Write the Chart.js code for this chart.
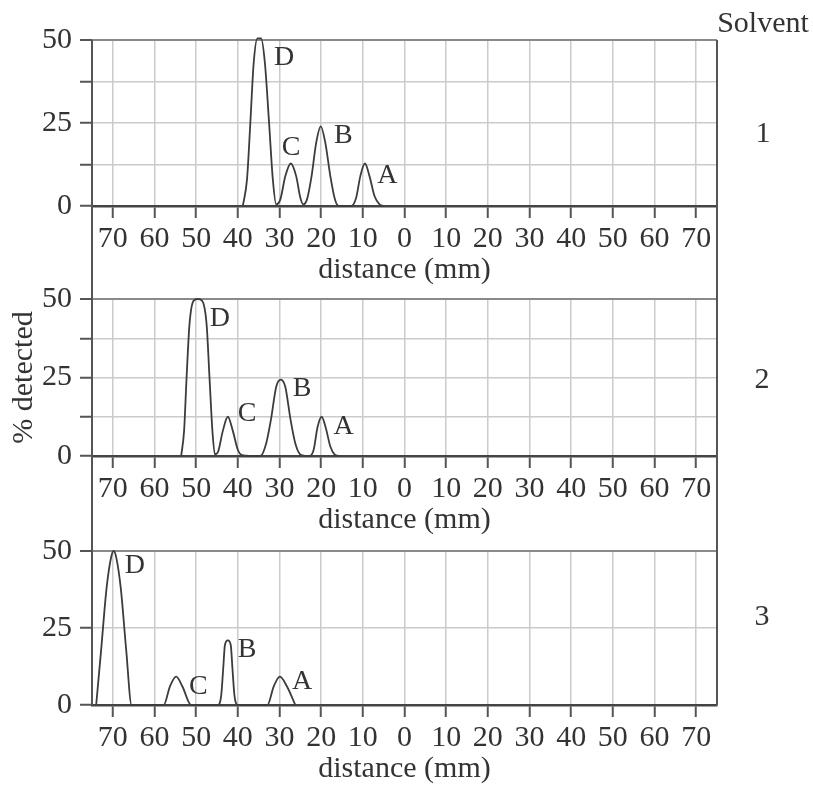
<!DOCTYPE html>
<html>
<head>
<meta charset="utf-8">
<script src="https://cdn.jsdelivr.net/npm/chart.js@4.4.0/dist/chart.umd.min.js"></script>
<style>
  body { margin: 0; background: #fff; }
  #wrap { position: relative; width: 813px; height: 788px; overflow: hidden; }
  canvas { position: absolute; left: 0; }
  .lbl { position: absolute; font: 30px "Liberation Serif", serif; color: #333; transform: translate(-50%, -50%); white-space: nowrap; }
</style>
</head>
<body>
<div id="wrap">
  <canvas id="c1" width="813" height="288" style="top:0px"></canvas>
  <canvas id="c2" width="813" height="265" style="top:273px"></canvas>
  <canvas id="c3" width="813" height="262" style="top:525px"></canvas>
  <div class="lbl" style="left:763px; top:22px">Solvent</div>
  <div class="lbl" style="left:763px; top:132px">1</div>
  <div class="lbl" style="left:762px; top:378px">2</div>
  <div class="lbl" style="left:762px; top:615px">3</div>
</div>
<script>
// axis ticks
const xTickValues = [70, 60, 50, 40, 30, 20, 10, 0, -10, -20, -30, -40, -50, -60, -70];
const yTickValues = [0, 12.5, 25, 37.5, 50];
const yLabelValues = [0, 25, 50];
const peakLetters = ['D', 'C', 'B', 'A'];

// solvent 1 trace (distance mm, % detected)
const solvent1Dist = [38.8, 37.8, 37.0, 36.2, 35.3, 34.4, 33.5, 32.5, 31.6, 30.8,
  29.8, 28.6, 27.3, 26.0, 25.0, 24.3,
  23.4, 22.3, 21.2, 20.1, 19.0, 17.8, 16.7, 15.8, 12.8,
  11.6, 10.6, 9.5, 8.4, 7.2, 6.0, 5.0];
const solvent1Pct = [0, 8, 25, 43, 50.5, 50.5, 43, 25, 8, 0.5,
  2, 9, 12.8, 9, 2.5, 0.5,
  2, 9, 19, 24, 19, 9, 2, 0, 0,
  2.5, 9, 12.8, 9, 3, 0.5, 0];
const solvent1LabelDist = [28.9, 27.2, 14.7, 4.1];
const solvent1LabelPct = [44.8, 17.7, 21.1, 9.1];

// solvent 2 trace
const solvent2Dist = [53.6, 52.9, 52.3, 51.6, 50.6, 49.6, 48.6, 47.5, 46.8, 46.1, 45.5,
  44.7, 43.6, 42.4, 41.2, 40.0, 39.0, 35.0,
  34.6, 33.2, 32.0, 30.8, 29.7, 28.6, 27.4, 26.2, 24.8, 22.8,
  21.8, 20.9, 19.9, 18.9, 17.8, 16.8, 15.8];
const solvent2Pct = [0, 8, 25, 42, 49.5, 50, 49.5, 42, 25, 8, 0.5,
  1.5, 8, 12.5, 8, 2, 0.3, 0,
  0, 4, 12, 22, 24.3, 22, 12, 4, 0.3, 0,
  2, 9, 12.5, 9, 3, 0.5, 0];
const solvent2LabelDist = [44.3, 37.8, 24.6, 14.6];
const solvent2LabelPct = [43.8, 13.5, 21.3, 9.4];

// solvent 3 trace
const solvent3Dist = [74.0, 72.8, 71.5, 70.4, 69.8, 69.2, 68.1, 66.8, 65.5,
  57.8, 56.3, 54.8, 53.3, 51.2,
  44.8, 44.0, 43.5, 43.1, 42.4, 41.7, 41.3, 40.8, 40.0,
  32.9, 31.4, 29.9, 28.2, 26.2];
const solvent3Pct = [0, 18, 38, 48, 50, 48, 38, 18, 0,
  0, 6, 9.2, 6, 0,
  0, 3, 12, 19.5, 21, 19.5, 12, 3, 0,
  0, 6, 9.2, 6, 0];
const solvent3LabelDist = [64.7, 49.5, 37.8, 24.6];
const solvent3LabelPct = [45.3, 6.1, 18.1, 7.6];

const font = { family: '"Liberation Serif", serif', size: 30 };
const textColor = '#333';

// frame sides + peak letters
const framePlugin = {
  id: 'frame',
  afterDraw(chart, args, opts) {
    const { ctx, chartArea } = chart;
    const top = opts.first ? chartArea.top : 0;
    const bottom = opts.last ? chartArea.bottom : chart.height;
    ctx.save();
    ctx.strokeStyle = '#555';
    ctx.lineWidth = 2;
    ctx.beginPath();
    ctx.moveTo(chartArea.left, top);
    ctx.lineTo(chartArea.left, bottom);
    ctx.moveTo(chartArea.right, top);
    ctx.lineTo(chartArea.right, bottom);
    ctx.stroke();

    const xs = chart.scales.x, ys = chart.scales.y;
    ctx.fillStyle = textColor;
    ctx.font = '28px "Liberation Serif", serif';
    ctx.textAlign = 'center';
    ctx.textBaseline = 'middle';
    peakLetters.forEach((t, i) => {
      ctx.fillText(t, xs.getPixelForValue(opts.labelDist[i]), ys.getPixelForValue(opts.labelPct[i]));
    });
    ctx.restore();
  }
};

function makePanel(id, dist, pct, labelDist, labelPct, cfg) {
  new Chart(document.getElementById(id), {
    type: 'line',
    data: {
      datasets: [{
        data: dist.map((d, i) => ({ x: d, y: pct[i] })),
        borderColor: '#3c3c3c',
        borderWidth: 1.8,
        pointRadius: 0,
        fill: false,
        cubicInterpolationMode: 'monotone',
        clip: false
      }]
    },
    options: {
      responsive: false,
      animation: false,
      devicePixelRatio: 1,
      layout: { padding: { top: cfg.padTop, right: 96, left: 0, bottom: 0 } },
      scales: {
        x: {
          type: 'linear',
          reverse: true,
          min: -75,
          max: 75,
          afterBuildTicks: s => { s.ticks = xTickValues.map(v => ({ value: v })); },
          afterFit: s => { s.height = 82; },
          ticks: { callback: v => Math.abs(v), font, color: textColor, padding: 3, maxRotation: 0, autoSkip: false },
          grid: { color: '#cbcbcb', lineWidth: 1.5, tickLength: 12, tickColor: '#555', tickWidth: 2 },
          border: { color: '#444', width: 2.5 },
          title: { display: true, text: 'distance (mm)', font, color: textColor, padding: { top: 0, bottom: 0 } }
        },
        y: {
          min: 0,
          max: 50,
          afterBuildTicks: s => { s.ticks = yTickValues.map(v => ({ value: v })); },
          afterFit: s => { s.width = 92; },
          ticks: { callback: v => yLabelValues.includes(v) ? v : '', font, color: textColor, padding: 8 },
          grid: {
            color: c => (c.tick && c.tick.value === 50) ? '#8a8a8a' : '#cbcbcb',
            lineWidth: c => (c.tick && c.tick.value === 50) ? 2 : 1.5,
            tickLength: 12, tickColor: '#555', tickWidth: 2
          },
          border: { display: false },
          title: { display: !!cfg.yTitle, text: '% detected', font, color: textColor, padding: { top: 6, bottom: 0 } }
        }
      },
      plugins: {
        legend: { display: false },
        tooltip: { enabled: false },
        frame: { first: cfg.first, last: cfg.last, labelDist, labelPct }
      }
    },
    plugins: [framePlugin]
  });
}

makePanel('c1', solvent1Dist, solvent1Pct, solvent1LabelDist, solvent1LabelPct, { padTop: 40, first: true });
makePanel('c2', solvent2Dist, solvent2Pct, solvent2LabelDist, solvent2LabelPct, { padTop: 20, yTitle: true });
makePanel('c3', solvent3Dist, solvent3Pct, solvent3LabelDist, solvent3LabelPct, { padTop: 20, last: true });
</script>
</body>
</html>
